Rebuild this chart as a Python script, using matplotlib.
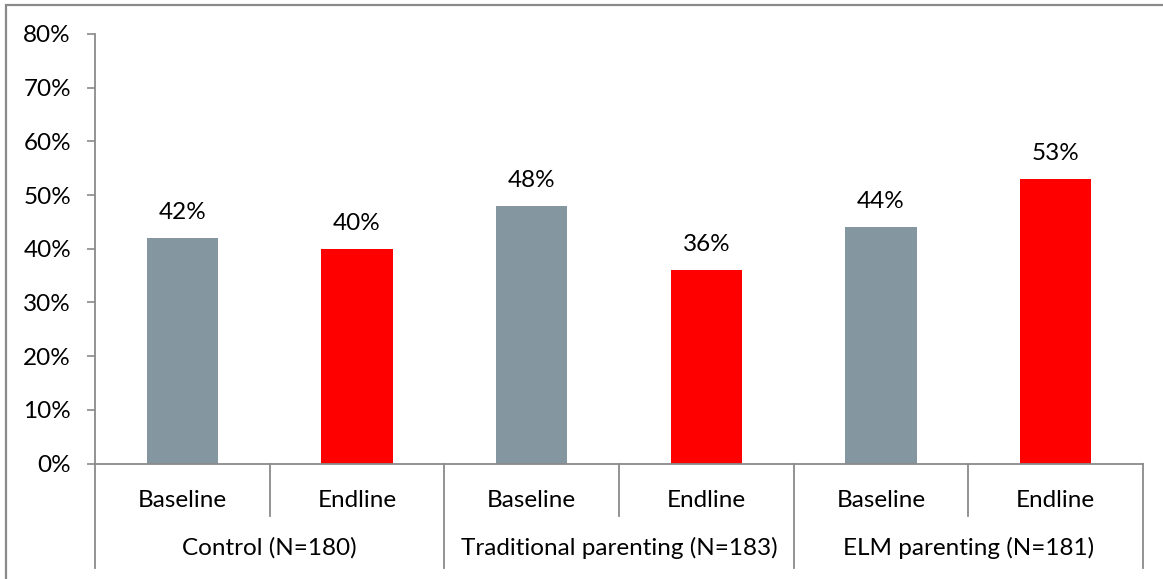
import matplotlib
matplotlib.use("Agg")
import matplotlib.pyplot as plt
import matplotlib.transforms as mtransforms
from matplotlib.patches import Rectangle
from matplotlib.ticker import FuncFormatter

# Data
groups = ["Control (N=180)", "Traditional parenting (N=183)", "ELM parenting (N=181)"]
phases = ["Baseline", "Endline"]
values = [42, 40, 48, 36, 44, 53]          # percent
value_labels = ["42%", "40%", "48%", "36%", "44%", "53%"]
y_ticks = [0, 10, 20, 30, 40, 50, 60, 70, 80]

plt.rcParams["font.family"] = ["Lato", "DejaVu Sans"]
FS = 17.5

W, H = 1163, 579
fig = plt.figure(figsize=(W / 100, H / 100), dpi=100)
fig.patch.set_facecolor("white")

left, right, top, bottom = 95, 1143, 34, 463.5
ax = fig.add_axes([left / W, 1 - bottom / H, (right - left) / W, (bottom - top) / H])
ax_h = bottom - top

gray_axis = "#8a8a8a"
colors = ["#8497a0", "#ff0000"] * len(groups)
x = list(range(len(values)))

ax.bar(x, values, width=0.41, color=colors, zorder=2)

for xi, v, lab in zip(x, values, value_labels):
    ax.annotate(lab, (xi, v), xytext=(0, 18.5), textcoords="offset points",
                ha="center", va="center", fontsize=FS, color="black")

ax.set_xlim(-0.5, len(values) - 0.5)
ax.set_ylim(0, 80)
ax.set_yticks(y_ticks)
ax.yaxis.set_major_formatter(FuncFormatter(lambda v, p: f"{int(v)}%"))
ax.tick_params(axis="y", length=5.8, width=1.2, color=gray_axis, pad=11.5,
               labelsize=FS, labelcolor="black")
ax.set_xticks([])

for s in ["top", "right"]:
    ax.spines[s].set_visible(False)
for s in ["left", "bottom"]:
    ax.spines[s].set_color(gray_axis)
    ax.spines[s].set_linewidth(1.3)

# Multi-level category axis
trans = mtransforms.blended_transform_factory(ax.transData, ax.transAxes)
inner_len = 52 / ax_h
outer_len = 104 / ax_h
n_ph = len(phases)
for gi, g in enumerate(groups):
    start = gi * n_ph - 0.5
    for pi, ph in enumerate(phases):
        xi = gi * n_ph + pi
        ax.text(xi, -37 / ax_h, ph, transform=trans, ha="center", va="center",
                fontsize=FS, color="black")
        if pi > 0:
            ax.plot([xi - 0.5, xi - 0.5], [0, -inner_len], transform=trans,
                    color=gray_axis, lw=1.3, clip_on=False)
    ax.text(start + n_ph / 2, -84 / ax_h, g, transform=trans, ha="center",
            va="center", fontsize=FS, color="black")
for gi in range(len(groups) + 1):
    xb = gi * n_ph - 0.5
    ax.plot([xb, xb], [0, -outer_len], transform=trans, color=gray_axis,
            lw=1.3, clip_on=False)

# Chart border
fig.patches.append(Rectangle((6 / W, -0.1), 1.2, 1.1 - 5 / H,
                             transform=fig.transFigure, fill=False,
                             edgecolor="#8a8a8a", lw=1.6))

fig.savefig("out.png", dpi=100, facecolor="white")
